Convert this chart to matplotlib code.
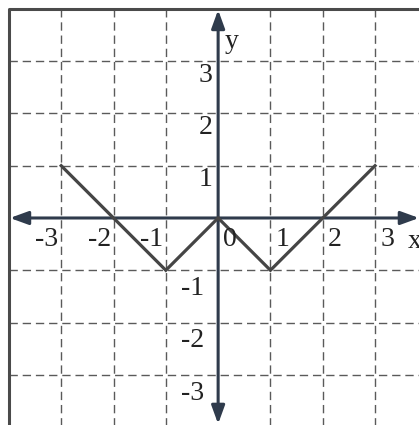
import matplotlib
matplotlib.use("Agg")
import matplotlib.pyplot as plt
from matplotlib.patches import FancyArrowPatch

# graph of y = ||x| - 1| - 1 on [-3, 3]
func_x = [-3, -1, 0, 1, 3]
func_y = [1, -1, 0, -1, 1]

grid_vals = [-3, -2, -1, 1, 2, 3]
x_tick_vals = [-3, -2, -1, 0, 1, 2, 3]
x_tick_labels = ["-3", "-2", "-1", "0", "1", "2", "3"]
y_tick_vals = [3, 2, 1, -1, -2, -3]
y_tick_labels = ["3", "2", "1", "-1", "-2", "-3"]

serif = "Liberation Serif"
axis_col = "#2f3b4c"
line_col = "#454545"

fig = plt.figure(figsize=(4.19, 4.25), dpi=100)
ax = fig.add_axes([0, 0, 1, 1])
ax.set_xlim(-4.17, 3.84)
ax.set_ylim(-3.96, 4.17)
ax.axis("off")

# dashed grid
for g in grid_vals:
    ax.plot([g, g], [-4, 4], color="#5a5a5a", lw=1.0, ls=(0, (6, 3.5)), zorder=1)
    ax.plot([-4, 4], [g, g], color="#5a5a5a", lw=1.0, ls=(0, (6, 3.5)), zorder=1)

# outer frame
ax.plot([-4, -4, 4, 4, -4], [-4, 4, 4, -4, -4], color="#4a4a4a", lw=2.2, zorder=2)

# axes with arrow heads at both ends
style = "<|-|>,head_length=11,head_width=4"
ax.add_patch(FancyArrowPatch((-3.98, 0), (3.84, 0), arrowstyle=style,
                             color=axis_col, lw=2.2, shrinkA=0, shrinkB=0, zorder=3))
ax.add_patch(FancyArrowPatch((0, -3.94), (0, 3.98), arrowstyle=style,
                             color=axis_col, lw=2.2, shrinkA=0, shrinkB=0, zorder=3))

ax.plot(func_x, func_y, color=line_col, lw=2.3, solid_joinstyle="miter", zorder=4)

fs = 20
for v, lab in zip(x_tick_vals, x_tick_labels):
    if v < 0:
        ax.text(v - 0.05, -0.53, lab, ha="right", va="baseline",
                fontsize=fs, family=serif, color="#222222", zorder=5)
    else:
        ax.text(v + 0.1, -0.53, lab, ha="left", va="baseline",
                fontsize=fs, family=serif, color="#222222", zorder=5)

for v, lab in zip(y_tick_vals, y_tick_labels):
    if v > 0:
        ax.text(-0.11, v - 0.27, lab, ha="right", va="center",
                fontsize=fs, family=serif, color="#222222", zorder=5)
    else:
        ax.text(-0.27, v - 0.35, lab, ha="right", va="center",
                fontsize=fs, family=serif, color="#222222", zorder=5)

ax.text(0.12, 3.38, "y", ha="left", va="center", fontsize=fs, family=serif, color="#222222")
ax.text(3.63, -0.58, "x", ha="left", va="baseline", fontsize=fs, family=serif, color="#222222")

fig.savefig("out.png", dpi=100)
